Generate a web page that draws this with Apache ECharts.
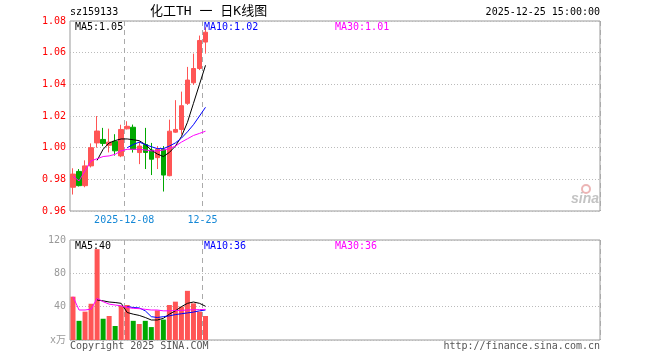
<!DOCTYPE html>
<html>
<head>
<meta charset="utf-8">
<script src="https://cdn.jsdelivr.net/npm/echarts@6/dist/echarts.min.js"></script>
<style>html,body{margin:0;padding:0;background:#fff}#c{width:660px;height:360px}</style>
</head>
<body>
<div id="c"></div>
<script>
// ---- data ----
const dates = ['2025-11-25','2025-11-26','2025-11-27','2025-11-28','2025-12-01','2025-12-02','2025-12-03','2025-12-04','2025-12-05',
  '2025-12-08','2025-12-09','2025-12-10','2025-12-11','2025-12-12','2025-12-15','2025-12-16','2025-12-17','2025-12-18','2025-12-19',
  '2025-12-22','2025-12-23','2025-12-24','2025-12-25'];
const tickDates = ['2025-12-08','2025-12-25'];
const tickTexts = ['2025-12-08','12-25'];
const openP  = [0.975,0.985,0.976,0.9885,1.003,1.0052,1.0015,1.004,0.9948,1.0119,1.0129,0.9969,1.002,0.9985,0.9937,0.999,0.9823,1.0098,1.0115,1.028,1.041,1.050,1.0667];
const closeP = [0.9833,0.976,0.9885,1.000,1.0105,1.0027,1.0035,0.998,1.0115,1.0135,0.999,1.001,0.997,0.9927,0.999,0.9827,1.0104,1.0115,1.0265,1.0427,1.050,1.0677,1.0729];
const highP  = [0.987,0.9865,0.992,1.0027,1.020,1.0125,1.012,1.0085,1.0145,1.0167,1.0146,1.004,1.0125,1.003,1.001,1.001,1.0177,1.030,1.0354,1.051,1.0594,1.0708,1.076];
const lowP   = [0.9704,0.9755,0.975,0.9875,1.000,1.001,0.997,0.995,0.994,1.0115,0.9969,0.9896,0.9865,0.9827,0.9865,0.9723,0.9819,1.0094,1.0083,1.027,1.0396,1.049,1.0594];
const ma5P  = [null,null,null,null,0.992,0.999,1.003,1.0045,1.0055,1.0055,1.005,1.0044,1.002,0.9985,0.996,0.9944,0.997,1.001,1.007,1.016,1.028,1.040,1.052];
const ma10P = [null,null,null,null,null,null,null,null,null,1.000,1.002,1.0035,1.002,1.0006,0.9994,0.9994,1.001,1.003,1.006,1.010,1.0145,1.020,1.0255];
const ma30P = [0.982,0.979,0.9854,0.9917,0.993,0.9944,0.9948,0.9958,0.998,0.999,0.999,0.999,0.9985,0.998,0.998,0.9985,0.9994,1.001,1.0035,1.0056,1.0077,1.009,1.0104];
const volume = [52,23,34,43.5,109,25.5,28.8,16.8,41,42,23,19.2,23,15.5,35.5,24.5,42,46,40,59,44,34,28.8];
const ma5V  = [null,null,null,null,48,47,45.6,45,44,33,31,29.5,27,24,24,26,31,35,40,44,45.6,44,40.5];
const ma10V = [null,null,null,null,null,null,null,null,null,40,39,38.5,35,28,27,28,29,30.5,31.5,32.5,33.5,35,36];
const ma30V = [52,36,36,37,50,46,43,42,41,39,38,37.6,36.8,36,36,35,35,35.5,35.5,36,36.3,36.5,36.8];
const priceTicks = {min:0.96, max:1.08, step:0.02};
const volTicks = {min:0, max:120, step:40};
const headerCode = 'sz159133';
const headerTitle = '化工TH 一 日K线图';
const headerTime = '2025-12-25 15:00:00';
const maPriceLabels = ['MA5:1.05','MA10:1.02','MA30:1.01'];
const maVolLabels = ['MA5:40','MA10:36','MA30:36'];
const SLOTS = 88;

// ---- build ----
const cats = [];
for (let i = 0; i < SLOTS; i++) cats.push(i < dates.length ? dates[i] : 'pad' + i);
const tickIdx = tickDates.map(d => dates.indexOf(d));
const isTick = (i) => tickIdx.indexOf(i) >= 0;

const RED = '#ff5555', GREEN = '#00a800';
const MONO = "'DejaVu Sans Mono', 'Noto Sans CJK SC', monospace";
const candle = dates.map((d, i) => [openP[i], closeP[i], lowP[i], highP[i]]);

const chart = echarts.init(document.getElementById('c'), null, {renderer: 'canvas'});
const gridLeft = 70, gridRight = 60;
const dashed = {show: true, interval: (i) => isTick(i), lineStyle: {color: '#aaa', type: [5, 4], width: 1}};

function lineSeries(data, color, xi) {
  return {type: 'line', data, xAxisIndex: xi, yAxisIndex: xi, symbol: 'none', showSymbol: false,
    lineStyle: {color, width: 1}, itemStyle: {color}, connectNulls: false, silent: true, z: 5};
}

const option = {
  animation: false,
  backgroundColor: '#fff',
  grid: [
    {left: gridLeft, right: gridRight, top: 21, height: 190, show: true, borderColor: '#999', borderWidth: 1, backgroundColor: 'transparent'},
    {left: gridLeft, right: gridRight, top: 240, height: 100, show: true, borderColor: '#999', borderWidth: 1, backgroundColor: 'transparent'}
  ],
  xAxis: [
    {type: 'category', gridIndex: 0, data: cats, boundaryGap: true,
      axisLine: {show: false}, axisTick: {show: false},
      axisLabel: {show: true, interval: (i) => isTick(i), color: '#1588d6', fontFamily: MONO, fontSize: 10, margin: 4,
        padding: [0, 6, 0, 0],
        formatter: (v) => { const k = tickDates.indexOf(v); return k >= 0 ? tickTexts[k] : ''; }},
      splitLine: dashed},
    {type: 'category', gridIndex: 1, data: cats, boundaryGap: true,
      axisLine: {show: false}, axisTick: {show: false}, axisLabel: {show: false},
      splitLine: dashed}
  ],
  yAxis: [
    {type: 'value', gridIndex: 0, min: priceTicks.min, max: priceTicks.max, interval: priceTicks.step, scale: true,
      axisLine: {show: false}, axisTick: {show: false},
      axisLabel: {color: '#ff0000', fontFamily: MONO, fontSize: 10, margin: 4, formatter: (v) => v.toFixed(2)},
      splitLine: {show: true, lineStyle: {color: '#bbb', type: [1, 2], width: 1}}},
    {type: 'value', gridIndex: 1, min: volTicks.min, max: volTicks.max, interval: volTicks.step,
      axisLine: {show: false}, axisTick: {show: false},
      axisLabel: {color: '#999', fontFamily: MONO, fontSize: 10, margin: 4, formatter: (v) => v === 0 ? 'x万' : String(v)},
      splitLine: {show: true, lineStyle: {color: '#bbb', type: [1, 2], width: 1}}}
  ],
  series: [
    {type: 'candlestick', xAxisIndex: 0, yAxisIndex: 0, data: candle, barWidth: 5,
      itemStyle: {color: RED, color0: GREEN, borderColor: RED, borderColor0: GREEN, borderWidth: 1}, z: 3},
    lineSeries(ma5P, '#000000', 0),
    lineSeries(ma10P, '#0000ff', 0),
    lineSeries(ma30P, '#ff00ff', 0),
    {type: 'bar', xAxisIndex: 1, yAxisIndex: 1, data: volume, barWidth: 5,
      itemStyle: {color: (p) => closeP[p.dataIndex] >= openP[p.dataIndex] ? RED : GREEN}, z: 3},
    lineSeries(ma5V, '#000000', 1),
    lineSeries(ma10V, '#0000ff', 1),
    lineSeries(ma30V, '#ff00ff', 1)
  ],
  graphic: [
    {type: 'text', left: 70, top: 7, style: {text: headerCode, fill: '#000', font: '10px ' + MONO}},
    {type: 'text', left: 150, top: 5, style: {text: headerTitle, fill: '#000', font: '13px ' + MONO}},
    {type: 'text', right: 60, top: 7, style: {text: headerTime, fill: '#000', font: '10px ' + MONO}},
    {type: 'text', left: 75, top: 22, style: {text: maPriceLabels[0], fill: '#000', font: '10px ' + MONO}, z: 10},
    {type: 'text', left: 204, top: 22, style: {text: maPriceLabels[1], fill: '#0000ff', font: '10px ' + MONO}, z: 10},
    {type: 'text', left: 335, top: 22, style: {text: maPriceLabels[2], fill: '#ff00ff', font: '10px ' + MONO}, z: 10},
    {type: 'text', left: 75, top: 241, style: {text: maVolLabels[0], fill: '#000', font: '10px ' + MONO}, z: 10},
    {type: 'text', left: 204, top: 241, style: {text: maVolLabels[1], fill: '#0000ff', font: '10px ' + MONO}, z: 10},
    {type: 'text', left: 335, top: 241, style: {text: maVolLabels[2], fill: '#ff00ff', font: '10px ' + MONO}, z: 10},
    {type: 'text', left: 70, top: 341, style: {text: 'Copyright 2025 SINA.COM', fill: '#555', font: '10px ' + MONO}},
    {type: 'text', right: 60, top: 341, style: {text: 'http://finance.sina.com.cn', fill: '#555', font: '10px ' + MONO}},
    {type: 'circle', shape: {cx: 586, cy: 189, r: 4}, style: {fill: 'none', stroke: 'rgba(220,120,120,0.55)', lineWidth: 2}},
    {type: 'text', left: 571, top: 192, style: {text: 'sina', fill: 'rgba(170,170,170,0.7)', font: 'italic bold 14px Arial, sans-serif'}}
  ]
};
chart.setOption(option);
</script>
</body>
</html>
